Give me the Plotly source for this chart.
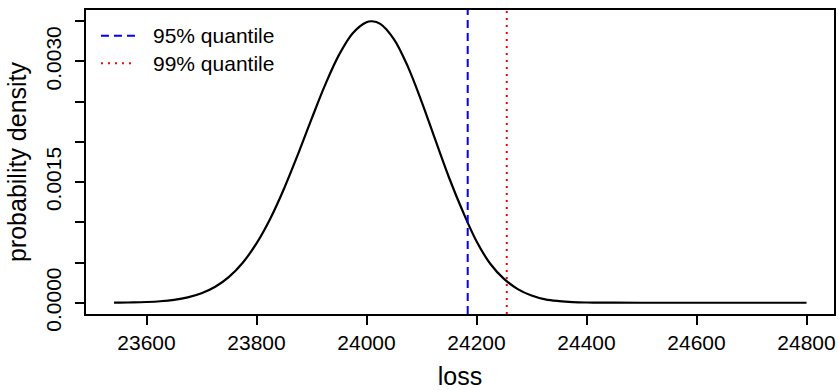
import plotly.graph_objects as go

# Density curve
loss = [23541, 23550, 23575, 23600, 23625, 23650, 23675, 23700, 23725, 23750,
        23775, 23800, 23825, 23850, 23875, 23900, 23925, 23950, 23975, 24000,
        24010, 24025, 24050, 24075, 24100, 24125, 24150, 24175, 24200, 24225,
        24250, 24275, 24300, 24325, 24350, 24375, 24400, 24425, 24450, 24500,
        24600, 24700, 24800]
density = [0.0000015, 0.000002, 0.0000044, 0.0000093, 0.0000187, 0.0000361, 0.0000666,
           0.000118, 0.000199, 0.000322, 0.000498, 0.000738, 0.001045, 0.001418,
           0.001839, 0.002283, 0.002712, 0.003082, 0.003352, 0.003488, 0.003500,
           0.003468, 0.003276, 0.002939, 0.002504, 0.002027, 0.001557, 0.001137,
           0.000765, 0.000485, 0.000297, 0.000170, 0.000090, 0.000042, 0.000020,
           0.000008, 0.000003, 0.000001, 0.0000004, 0.0, 0.0, 0.0, 0.0]

q95 = 24184
q99 = 24255
quant_labels = ["95% quantile", "99% quantile"]

x_ticks = [23600, 23800, 24000, 24200, 24400, 24600, 24800]
y_ticks = [0.0, 0.0005, 0.0010, 0.0015, 0.0020, 0.0025, 0.0030, 0.0035]
y_ticktext = ["0.0000", "", "", "0.0015", "", "", "0.0030", ""]

x_range = [23490, 24850]
y_range = [-0.00014, 0.00364]

FONT = "Liberation Sans, Arial, Helvetica, sans-serif"
FS = 21

fig = go.Figure()
fig.add_trace(go.Scatter(x=loss, y=density, mode="lines",
                         line=dict(color="black", width=2.2, shape="spline", smoothing=1.0),
                         showlegend=False, hoverinfo="skip"))
fig.add_trace(go.Scatter(x=[q95, q95], y=y_range, mode="lines", name=quant_labels[0],
                         line=dict(color="blue", width=2, dash="8px,5px"), showlegend=False))
fig.add_trace(go.Scatter(x=[q99, q99], y=y_range, mode="lines", name=quant_labels[1],
                         line=dict(color="red", width=2, dash="2px,5px"), showlegend=False))

# manual legend (R style) in the top-left corner of the plot box
leg_styles = [dict(color="blue", width=2, dash="8px,5px"),
              dict(color="red", width=2, dash="2px,5px")]
leg_y = [0.9155, 0.8247]
for lab, sty, yy in zip(quant_labels, leg_styles, leg_y):
    fig.add_shape(type="line", xref="paper", yref="paper", x0=0.02, x1=0.0667,
                  y0=yy, y1=yy, line=sty)
    fig.add_annotation(xref="paper", yref="paper", x=0.0867, y=yy, text=lab,
                       showarrow=False, xanchor="left", yanchor="middle",
                       font=dict(size=FS, family=FONT, color="black"))

fig.update_layout(
    width=838, height=390,
    margin=dict(l=86, r=2, t=10, b=76),
    paper_bgcolor="white", plot_bgcolor="white",
    font=dict(family=FONT, size=FS, color="black"),
    showlegend=False,
)
fig.update_xaxes(range=x_range, tickvals=x_ticks, ticktext=[str(v) for v in x_ticks],
                 showgrid=False, zeroline=False, showline=True, mirror=True,
                 linecolor="black", linewidth=1.5, ticks="outside", ticklen=9,
                 tickcolor="black", tickwidth=1.5,
                 title=dict(text="loss", standoff=17))
fig.update_yaxes(range=y_range, tickvals=y_ticks, ticktext=y_ticktext, tickangle=-90,
                 showgrid=False, zeroline=False, showline=True, mirror=True,
                 linecolor="black", linewidth=1.5, ticks="outside", ticklen=9,
                 tickcolor="black", tickwidth=1.5, ticklabelstandoff=6,
                 title=dict(text="probability density", standoff=8))

fig.write_html("out.html")
